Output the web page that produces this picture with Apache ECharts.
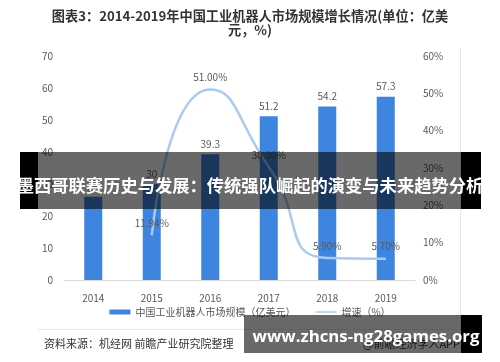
<!DOCTYPE html>
<html><head><meta charset="utf-8">
<script src="https://cdn.jsdelivr.net/npm/echarts@6/dist/echarts.min.js"></script>
<style>html,body{margin:0;padding:0;background:#fff}#c{width:500px;height:362px}</style>
</head><body><div id="c"></div>
<script>
const categories = ['2014','2015','2016','2017','2018','2019'];
const marketSize = [26.0, 30, 39.3, 51.2, 54.2, 57.3];
const growthRate = [null, 11.94, 51.00, 30.30, 5.90, 5.70];
const leftTicks = [0, 10, 20, 30, 40, 50, 60, 70];
const rightTicks = [0, 10, 20, 30, 40, 50, 60];
const titleLines = ['图表3：2014-2019年中国工业机器人市场规模增长情况(单位：亿美', '元，%)'];
const seriesNames = ['中国工业机器人市场规模（亿美元）', '增速（%）'];
const sourceText = '资料来源：机经网 前瞻产业研究院整理';
const creditText = '@前瞻经济学人APP';
const bannerText = '墨西哥联赛历史与发展：传统强队崛起的演变与未来趋势分析';
const footerBanner = 'www.zhcns-ng28games.org';

const FONT = '"Noto Sans CJK SC", "Noto Sans", sans-serif';
const chart = echarts.init(document.getElementById('c'), null, {renderer: 'canvas'});
chart.setOption({
  animation: false,
  textStyle: {fontFamily: FONT},
  grid: {left: 64, right: 85, top: 56, bottom: 82, containLabel: false},
  legend: {
    bottom: 40, left: 'center',
    itemWidth: 21, itemHeight: 5, itemGap: 20,
    textStyle: {fontSize: 10, color: '#595959', fontFamily: FONT},
    data: [
      {name: seriesNames[0], icon: 'rect'},
      {name: seriesNames[1], icon: 'path://M0 0H20V1.4H0Z'}
    ]
  },
  xAxis: {
    type: 'category', data: categories,
    axisLine: {lineStyle: {color: '#D9D9D9', width: 1}},
    axisTick: {show: false},
    axisLabel: {color: '#595959', fontSize: 10, margin: 13, fontFamily: FONT}
  },
  yAxis: [
    {type: 'value', min: leftTicks[0], max: leftTicks[leftTicks.length-1], interval: 10,
     axisLine: {show: false}, axisTick: {show: false}, splitLine: {show: false},
     axisLabel: {color: '#595959', fontSize: 10, margin: 11, fontFamily: FONT}},
    {type: 'value', min: rightTicks[0], max: rightTicks[rightTicks.length-1], interval: 10,
     axisLine: {show: false}, axisTick: {show: false}, splitLine: {show: false},
     axisLabel: {color: '#595959', fontSize: 10, margin: 8, formatter: '{value}%', fontFamily: FONT}}
  ],
  series: [
    {name: seriesNames[0], type: 'bar', data: marketSize, barWidth: 18,
     itemStyle: {color: '#3E85E0'},
     label: {show: true, position: 'top', distance: 5, color: '#595959', fontSize: 10, fontFamily: FONT}},
    {name: seriesNames[1], type: 'line', yAxisIndex: 1, data: growthRate, smooth: 0.6,
     connectNulls: false, symbol: 'circle', symbolSize: 0.1, showSymbol: true,
     lineStyle: {color: '#A9CBF2', width: 2.5}, itemStyle: {color: '#A9CBF2'},
     label: {show: true, position: 'top', distance: 7, color: '#595959', fontSize: 10, fontFamily: FONT,
             formatter: p => p.value.toFixed(2) + '%'}}
  ],
  graphic: [
    {type: 'text', x: 250, y: 16, style: {text: titleLines[0], fill: '#333', font: 'bold 13.2px ' + FONT, textAlign: 'center', textVerticalAlign: 'middle'}, silent: true},
    {type: 'text', x: 250, y: 30, style: {text: titleLines[1], fill: '#333', font: 'bold 13.2px ' + FONT, textAlign: 'center', textVerticalAlign: 'middle'}, silent: true},
    {type: 'line', shape: {x1: 460.5, y1: 48, x2: 460.5, y2: 330}, style: {stroke: '#E4E9F0', lineWidth: 1}, silent: true},
    {type: 'line', shape: {x1: 38, y1: 329.5, x2: 460, y2: 329.5}, style: {stroke: '#E4E9F0', lineWidth: 1}, silent: true},
    {type: 'text', left: 44, top: 338, style: {text: sourceText, fill: '#333', font: '11px ' + FONT}, silent: true},
    {type: 'text', right: 40, top: 338, style: {text: creditText, fill: '#333', font: '11px ' + FONT}, silent: true},
    // middle banner
    {type: 'rect', shape: {x: 20, y: 152, width: 18, height: 57}, style: {fill: '#000'}, silent: true, z: 100},
    {type: 'rect', shape: {x: 38, y: 152, width: 423, height: 57}, style: {fill: 'rgba(0,0,0,0.59)'}, silent: true, z: 100},
    {type: 'rect', shape: {x: 461, y: 152, width: 20, height: 57}, style: {fill: '#000'}, silent: true, z: 100},
    {type: 'text', x: 250, y: 185, style: {text: bannerText, fill: '#fff', font: 'bold 17.3px ' + FONT, textAlign: 'center', textVerticalAlign: 'middle'}, silent: true, z: 101},
    // footer banner
    {type: 'rect', shape: {x: 244, y: 315, width: 217, height: 38}, style: {fill: 'rgba(0,0,0,0.59)'}, silent: true, z: 100},
    {type: 'rect', shape: {x: 461, y: 315, width: 21, height: 38}, style: {fill: '#000'}, silent: true, z: 100},
    {type: 'text', x: 366, y: 337, style: {text: footerBanner, fill: '#fff', font: 'bold 16.8px "Open Sans", sans-serif', textAlign: 'center', textVerticalAlign: 'middle'}, silent: true, z: 101}
  ]
});
</script></body></html>
